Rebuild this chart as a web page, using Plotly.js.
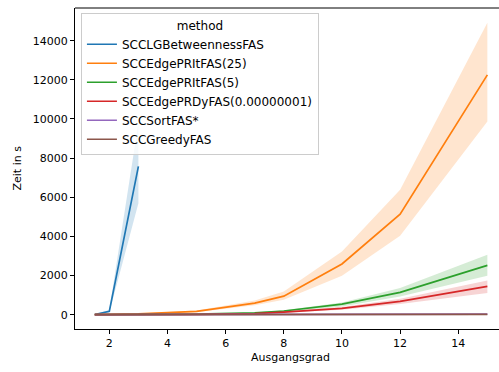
<!DOCTYPE html>
<html>
<head>
<meta charset="utf-8">
<script src="https://cdn.plot.ly/plotly-3.0.1.min.js"></script>
<style>
html,body{margin:0;padding:0;background:#fff;overflow:hidden;}
#chart{width:499px;height:372px;}
</style>
</head>
<body>
<div id="chart"></div>
<script>
// ---- data ----
var xs = [1.5, 2, 3, 5, 7, 8, 10, 12, 15];
var xTicks = [2, 4, 6, 8, 10, 12, 14];
var yTicks = [0, 2000, 4000, 6000, 8000, 10000, 12000, 14000];
var yTickLabels = ["0", "2000", "4000", "6000", "8000", "10000", "12000", "14000"];

var betweennessX = [1.5, 2, 3];
var betweenness = [10, 170, 7580];
var betweennessLo = [0, 110, 5700];
var betweennessHi = [25, 240, 9800];

var prit25 = [5, 10, 40, 170, 590, 950, 2590, 5140, 12250];
var prit25Lo = [0, 5, 25, 130, 480, 770, 1990, 4030, 9870];
var prit25Hi = [10, 15, 60, 220, 720, 1190, 3230, 6380, 14920];

var prit5 = [2, 3, 5, 30, 90, 190, 545, 1140, 2520];
var prit5Lo = [1, 2, 3, 20, 70, 150, 425, 935, 1990];
var prit5Hi = [3, 4, 7, 40, 110, 230, 630, 1360, 3060];

var prdy = [1, 2, 4, 20, 60, 130, 320, 680, 1445];
var prdyLo = [0, 1, 2, 15, 45, 100, 250, 545, 1105];
var prdyHi = [2, 3, 6, 25, 75, 160, 400, 815, 1750];

var sortFas = [2, 3, 4, 6, 8, 10, 14, 18, 30];
var greedy = [1, 2, 3, 4, 6, 8, 10, 14, 20];

var names = ["SCCLGBetweennessFAS", "SCCEdgePRItFAS(25)", "SCCEdgePRItFAS(5)",
             "SCCEdgePRDyFAS(0.00000001)", "SCCSortFAS*", "SCCGreedyFAS"];
var colors = ["#1f77b4", "#ff7f0e", "#2ca02c", "#d62728", "#9467bd", "#8c564b"];
var fills = ["rgba(31,119,180,0.2)", "rgba(255,127,14,0.2)", "rgba(44,160,44,0.2)",
             "rgba(214,39,40,0.2)", "rgba(148,103,189,0.2)", "rgba(140,86,75,0.2)"];

var series = [
  {x: betweennessX, y: betweenness, lo: betweennessLo, hi: betweennessHi},
  {x: xs, y: prit25, lo: prit25Lo, hi: prit25Hi},
  {x: xs, y: prit5, lo: prit5Lo, hi: prit5Hi},
  {x: xs, y: prdy, lo: prdyLo, hi: prdyHi},
  {x: xs, y: sortFas, lo: null, hi: null},
  {x: xs, y: greedy, lo: null, hi: null}
];

var traces = [];
var font = "DejaVu Sans, sans-serif";
series.forEach(function (s, i) {
  if (s.lo) {
    traces.push({
      x: s.x.concat(s.x.slice().reverse()),
      y: s.hi.concat(s.lo.slice().reverse()),
      type: "scatter", mode: "lines", fill: "toself",
      fillcolor: fills[i], line: {width: 0, color: fills[i]},
      hoverinfo: "skip", showlegend: false
    });
  }
  traces.push({
    x: s.x, y: s.y, type: "scatter", mode: "lines", name: names[i],
    line: {color: colors[i], width: 1.7}
  });
});

var layout = {
  width: 499, height: 372,
  margin: {l: 75, r: 0, t: 8, b: 43},
  paper_bgcolor: "#fff", plot_bgcolor: "#fff",
  font: {family: font, size: 11, color: "#000"},
  showlegend: true,
  xaxis: {
    range: [0.82, 15.40], tickvals: xTicks, ticktext: xTicks.map(String),
    showgrid: false, zeroline: false, showline: true, linecolor: "#000", linewidth: 1,
    ticks: "outside", ticklen: 4, tickwidth: 1, tickcolor: "#000",
    tickfont: {family: font, size: 11}
  },
  yaxis: {
    range: [-730, 15669], tickvals: yTicks, ticktext: yTickLabels,
    showgrid: false, zeroline: false, showline: true, linecolor: "#000", linewidth: 1,
    ticks: "outside", ticklen: 4, tickwidth: 1, tickcolor: "#000",
    tickfont: {family: font, size: 11}
  },
  shapes: [{type: "line", xref: "paper", yref: "paper", x0: 0, x1: 1, y0: 1, y1: 1,
            line: {color: "#000", width: 1}}],
  annotations: [
    {text: "Ausgangsgrad", xref: "paper", yref: "paper", x: 0.509, y: 0, yshift: -28,
     xanchor: "center", yanchor: "middle", showarrow: false, font: {family: font, size: 11}},
    {text: "Zeit in s", xref: "paper", yref: "paper", x: 0, xshift: -58, y: 0.5,
     xanchor: "center", yanchor: "middle", textangle: -90, showarrow: false,
     font: {family: font, size: 11}}
  ],
  legend: {
    x: 0.014, y: 0.984, xanchor: "left", yanchor: "top",
    bgcolor: "rgba(255,255,255,0.8)", bordercolor: "#cccccc", borderwidth: 1,
    font: {family: font, size: 12},
    title: {text: "method", side: "top center", font: {family: font, size: 12}},
    tracegroupgap: 0
  }
};

Plotly.newPlot("chart", traces, layout, {displayModeBar: false, staticPlot: true});
</script>
</body>
</html>
